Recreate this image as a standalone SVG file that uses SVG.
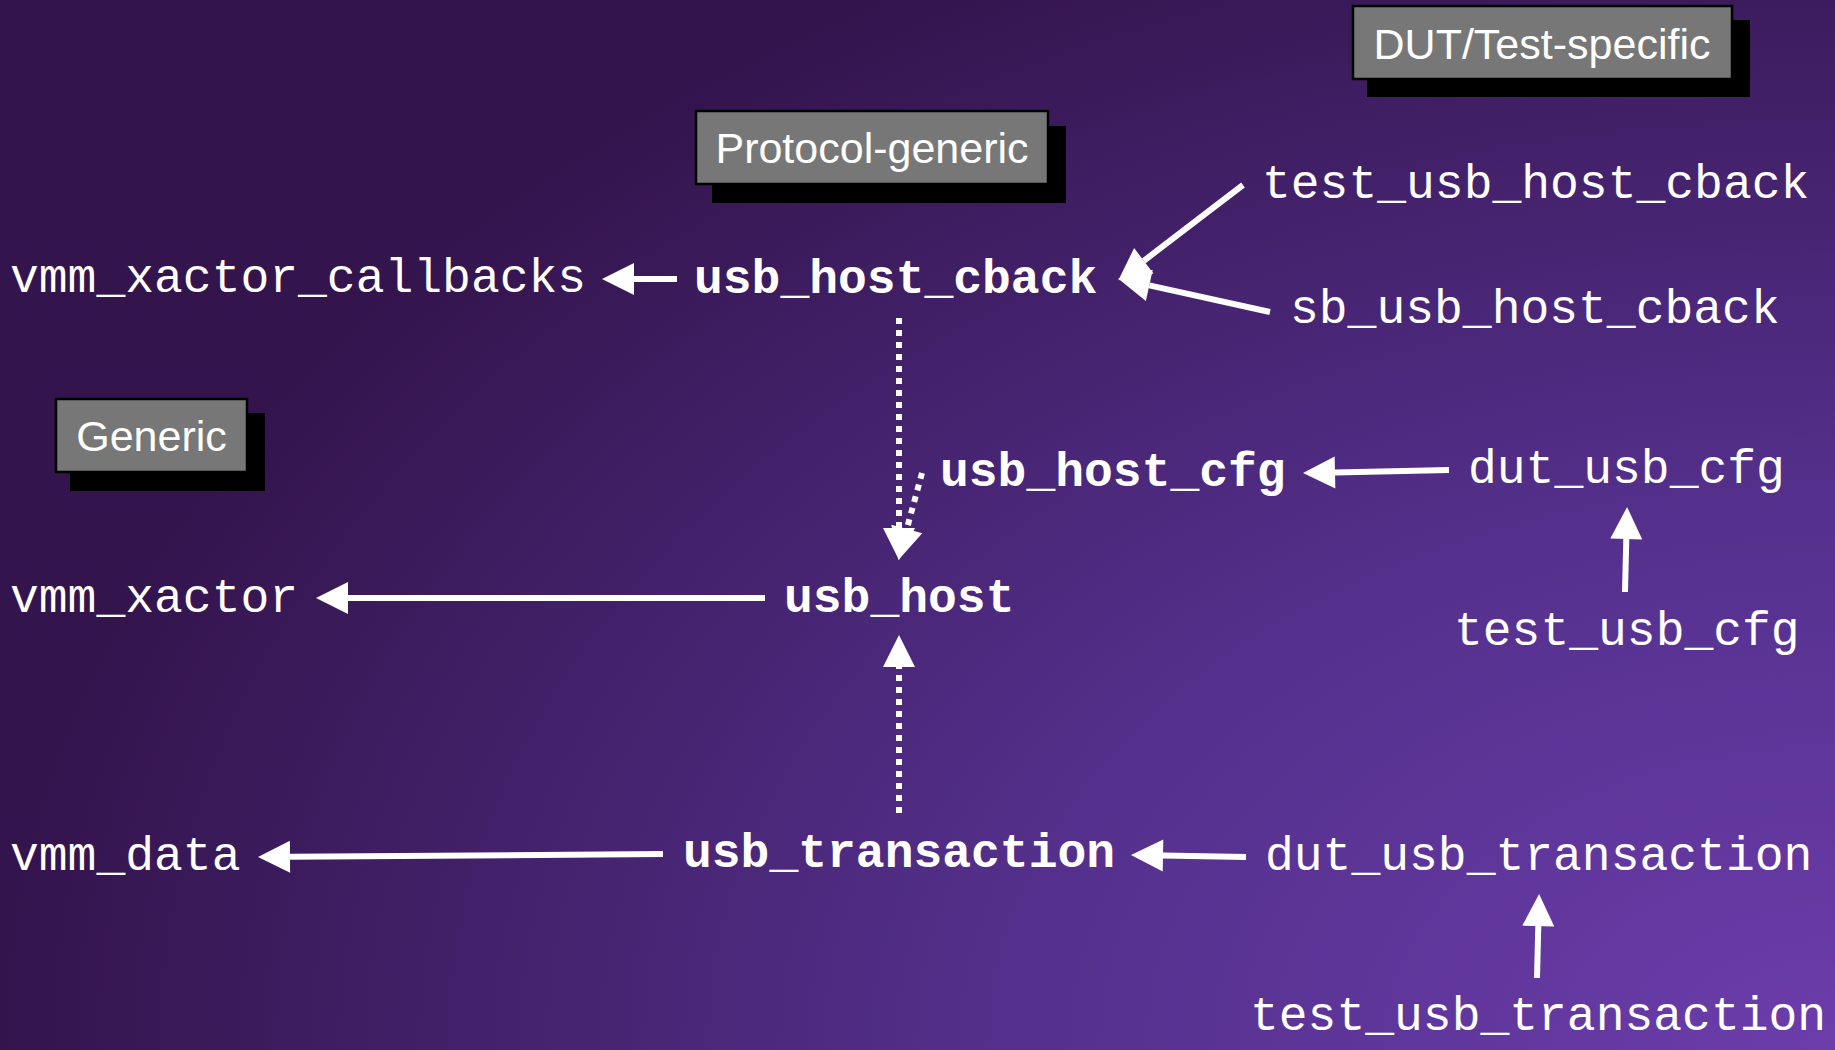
<svg xmlns="http://www.w3.org/2000/svg" width="1835" height="1050" viewBox="0 0 1835 1050">
  <defs>
    <radialGradient id="bg" gradientUnits="userSpaceOnUse" cx="1835" cy="1050" r="1835" gradientTransform="translate(1835 1050) scale(1 0.67) translate(-1835 -1050)">
      <stop offset="0" stop-color="#6b3dab"/>
      <stop offset="0.45" stop-color="#54308c"/>
      <stop offset="1" stop-color="#34144d"/>
    </radialGradient>
    <marker id="ah" markerUnits="userSpaceOnUse" markerWidth="32" markerHeight="32" viewBox="0 0 30 30" refX="0" refY="15" orient="auto" overflow="visible">
      <path d="M0,0 L30,15 L0,30 z" fill="#ffffff"/>
    </marker>
    <style>
      .mono { font-family: "Liberation Mono", "Courier New", monospace; font-size: 48px; fill: #ffffff; }
      .bold { font-weight: bold; }
      .lbl { font-family: "Liberation Sans", Arial, sans-serif; font-size: 43px; fill: #ffffff; text-anchor: middle; }
      .box { fill: #777777; stroke: #000000; stroke-width: 2.5; }
      .shadow { fill: #000000; }
      .solid { stroke: #ffffff; stroke-width: 6; fill: none; marker-end: url(#ah); }
      .dot { stroke: #ffffff; stroke-width: 6; fill: none; stroke-dasharray: 6 6; marker-end: url(#ah); }
    </style>
  </defs>

  <rect x="0" y="0" width="1835" height="1050" fill="url(#bg)"/>

  <!-- Category labels -->
  <g id="label-dut-test-specific">
    <rect class="shadow" x="1367" y="20" width="383" height="77"/>
    <rect class="box" x="1353" y="6" width="379" height="73"/>
    <text class="lbl" x="1542" y="59">DUT/Test-specific</text>
  </g>
  <g id="label-protocol-generic">
    <rect class="shadow" x="712" y="126" width="354" height="77"/>
    <rect class="box" x="696" y="111" width="352" height="73"/>
    <text class="lbl" x="872" y="163">Protocol-generic</text>
  </g>
  <g id="label-generic">
    <rect class="shadow" x="70" y="413" width="195" height="78"/>
    <rect class="box" x="56" y="399" width="191" height="73"/>
    <text class="lbl" x="151.5" y="451">Generic</text>
  </g>

  <!-- Connectors -->
  <g id="connectors">
    <line class="solid" x1="677" y1="279" x2="634" y2="279"/>
    <line class="solid" x1="1243" y1="185" x2="1143.8" y2="260.8"/>
    <line class="solid" x1="1270" y1="312" x2="1149.3" y2="285.4"/>
    <line class="dot" x1="899" y1="318" x2="899" y2="528"/>
    <line class="dot" x1="922" y1="473" x2="906.8" y2="529"/>
    <line class="dot" x1="899" y1="813" x2="899" y2="667"/>
    <line class="solid" x1="1449" y1="470" x2="1335" y2="472.4"/>
    <line class="solid" x1="1625" y1="592" x2="1626.3" y2="539"/>
    <line class="solid" x1="765" y1="598" x2="348" y2="598"/>
    <line class="solid" x1="663" y1="854" x2="290" y2="856.8"/>
    <line class="solid" x1="1246" y1="857" x2="1163" y2="855.5"/>
    <line class="solid" x1="1537" y1="978" x2="1538.3" y2="926"/>
  </g>

  <!-- Nodes -->
  <g id="vmm_xactor_callbacks"><text class="mono" x="10" y="292">vmm_xactor_callbacks</text></g>
  <g id="usb_host_cback"><text class="mono bold" x="694" y="293">usb_host_cback</text></g>
  <g id="test_usb_host_cback"><text class="mono" x="1262" y="198">test_usb_host_cback</text></g>
  <g id="sb_usb_host_cback"><text class="mono" x="1290" y="323">sb_usb_host_cback</text></g>
  <g id="usb_host_cfg"><text class="mono bold" x="940" y="486">usb_host_cfg</text></g>
  <g id="dut_usb_cfg"><text class="mono" x="1468" y="483">dut_usb_cfg</text></g>
  <g id="test_usb_cfg"><text class="mono" x="1454" y="645">test_usb_cfg</text></g>
  <g id="vmm_xactor"><text class="mono" x="10" y="612">vmm_xactor</text></g>
  <g id="usb_host"><text class="mono bold" x="784" y="612">usb_host</text></g>
  <g id="vmm_data"><text class="mono" x="10" y="870">vmm_data</text></g>
  <g id="usb_transaction"><text class="mono bold" x="683" y="867">usb_transaction</text></g>
  <g id="dut_usb_transaction"><text class="mono" x="1265" y="870">dut_usb_transaction</text></g>
  <g id="test_usb_transaction"><text class="mono" x="1250" y="1030">test_usb_transaction</text></g>
</svg>
